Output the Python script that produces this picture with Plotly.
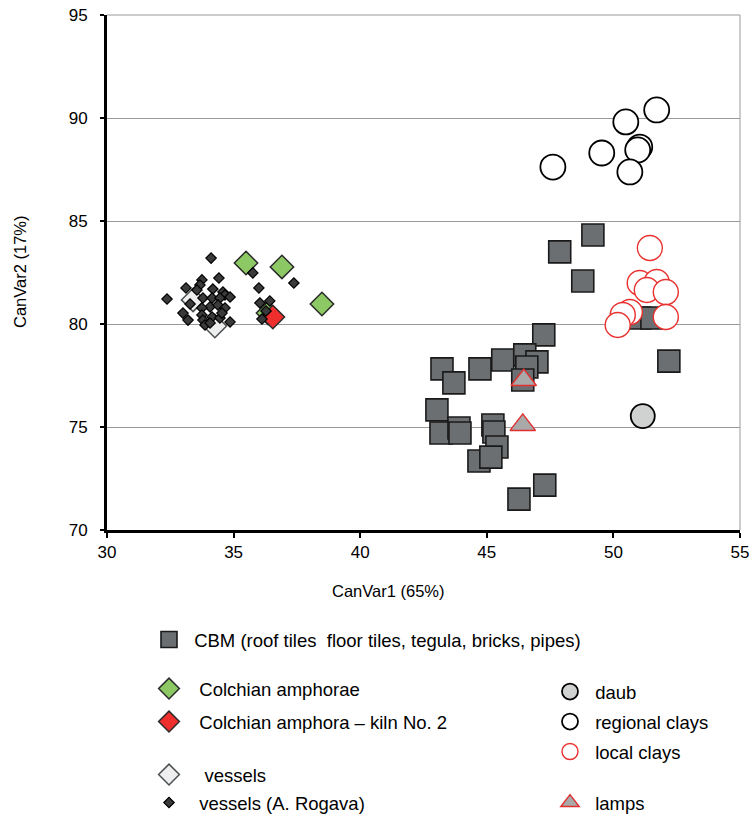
import plotly.graph_objects as go

# ---------------- data (CanVar1, CanVar2) ----------------
cbm_x = [47.25, 43.23, 43.70, 44.73, 45.63, 46.50, 46.98, 46.58, 46.42, 43.03, 43.19,
         43.90, 43.94, 45.24, 45.28, 45.40, 44.69, 45.16, 47.29, 46.27, 49.19, 47.88,
         48.79, 51.04, 51.52, 52.19]
cbm_y = [79.47, 77.82, 77.14, 77.82, 78.25, 78.50, 78.16, 77.91, 77.28, 75.83, 74.71,
         74.95, 74.71, 75.10, 74.76, 74.03, 73.35, 73.54, 72.18, 71.50, 84.32, 83.50,
         82.09, 80.29, 80.29, 78.20]

regional_x = [47.61, 49.54, 50.49, 51.71, 51.04, 50.96, 50.65]
regional_y = [87.62, 88.30, 89.81, 90.39, 88.59, 88.45, 87.38]

local_x = [51.44, 51.04, 51.71, 51.32, 52.07, 50.65, 50.37, 50.17, 52.07]
local_y = [83.69, 81.99, 82.04, 81.65, 81.55, 80.58, 80.44, 79.95, 80.34]

daub_x = [51.16]
daub_y = [75.53]

lamps_x = [46.46, 46.42]
lamps_y = [77.28, 75.10]

vessels_x = [33.40, 34.26]
vessels_y = [81.17, 79.90]

colchian_x = [35.49, 36.91, 38.49, 36.36]
colchian_y = [82.96, 82.77, 80.97, 80.53]

kiln_x = [36.55]
kiln_y = [80.34]

rogava_x = [34.11, 34.42, 33.12, 33.75, 33.67, 33.55, 32.37, 34.18, 34.58, 34.66, 34.86,
            33.79, 34.15, 34.46, 33.28, 34.07, 34.38, 34.66, 33.75, 33.00, 33.20, 33.75,
            33.79, 34.15, 34.46, 34.54, 34.86, 33.87, 34.07, 35.76, 37.38, 36.00, 36.04,
            36.43, 36.12, 36.28]
rogava_y = [83.20, 82.23, 81.75, 82.14, 81.89, 81.65, 81.21, 81.70, 81.55, 81.41, 81.31,
            81.26, 81.26, 81.26, 80.97, 80.83, 80.92, 80.78, 80.78, 80.53, 80.19, 80.44,
            80.19, 80.34, 80.29, 80.53, 80.10, 79.95, 80.05, 82.48, 81.99, 81.75, 81.02,
            81.12, 80.24, 80.63]

x_ticks = [30, 35, 40, 45, 50, 55]
y_ticks = [70, 75, 80, 85, 90, 95]

FONT = "Liberation Sans, Arial, sans-serif"
NB = "\u00a0"

fig = go.Figure()


def add(name, xs, ys, symbol, size, fill, line_color, line_width, legend):
    fig.add_trace(go.Scatter(
        x=xs, y=ys, mode="markers", name=name, legend=legend, showlegend=True,
        marker=dict(symbol=symbol, size=size, color=fill,
                    line=dict(color=line_color, width=line_width)),
    ))


add(NB + "CBM (roof tiles" + NB + " floor tiles, tegula, bricks, pipes)", cbm_x, cbm_y,
    "square", 22, "#6c6f72", "#1a1a1a", 1.6, "legend")
add(NB + "regional clays", regional_x, regional_y, "circle", 25, "white", "black", 1.8, "legend7")
add(NB + "local clays", local_x, local_y, "circle", 25, "white", "#e8302e", 1.4, "legend8")
add(NB + "daub", daub_x, daub_y, "circle", 24, "#d0d2d2", "black", 1.8, "legend6")
add(NB + "lamps", lamps_x, lamps_y, "triangle-up", 22, "#a9a9a9", "#e03030", 1.4, "legend9")
add(NB * 3 + "vessels", vessels_x, vessels_y, "diamond", 18, "#eeeeee", "#4a4f52", 1.5, "legend4")
add(NB * 2 + "Colchian amphorae", colchian_x, colchian_y, "diamond", 18, "#8cc864", "#2a2a2a", 1.5, "legend2")
add(NB * 2 + "Colchian amphora \u2013 kiln No. 2", kiln_x, kiln_y, "diamond", 18, "#ee2f2d", "#2a2a2a", 1.5, "legend3")
add(NB * 2 + "vessels (A. Rogava)", rogava_x, rogava_y, "diamond", 8, "#3a3a3a", "black", 1.2, "legend5")


def px_to_paper_y(py):
    return (530 - py) / 515.0


def px_to_paper_x(px):
    return (px - 107) / 633.0


def leg(px, py):
    return dict(x=px_to_paper_x(px), y=px_to_paper_y(py), xanchor="left", yanchor="middle",
                bgcolor="rgba(0,0,0,0)", borderwidth=0, itemwidth=30,
                font=dict(family=FONT, size=18.5, color="black"))


left_x = 149
right_x = 550
fig.update_layout(
    showlegend=True,
    legend=leg(left_x, 640),
    legend2=leg(left_x, 689),
    legend3=leg(left_x, 722),
    legend4=leg(left_x, 775),
    legend5=leg(left_x, 803),
    legend6=leg(right_x, 692),
    legend7=leg(right_x, 722),
    legend8=leg(right_x, 752),
    legend9=leg(right_x, 803),
)

fig.update_layout(
    width=752, height=819, autosize=False,
    margin=dict(l=107, r=12, t=15, b=289, autoexpand=False),
    paper_bgcolor="white", plot_bgcolor="white",
    font=dict(family=FONT, size=16, color="black"),
    xaxis=dict(range=[30, 55], tickvals=x_ticks, showgrid=False, zeroline=False,
               showline=True, linecolor="black", linewidth=3,
               ticks="outside", ticklen=5, tickwidth=2, tickcolor="black",
               tickfont=dict(family=FONT, size=17, color="black")),
    yaxis=dict(range=[70, 95], tickvals=y_ticks, showgrid=True, gridcolor="#9a9a9a",
               gridwidth=1, zeroline=False,
               showline=True, linecolor="black", linewidth=3,
               ticks="outside", ticklen=4, tickwidth=2, tickcolor="black",
               ticklabelstandoff=9,
               tickfont=dict(family=FONT, size=17, color="black")),
    shapes=[
        dict(type="line", xref="paper", yref="paper", x0=1, x1=1, y0=0, y1=1,
             line=dict(color="#9a9a9a", width=1), layer="below"),
        dict(type="line", xref="paper", yref="paper", x0=0, x1=1, y0=1, y1=1,
             line=dict(color="#9a9a9a", width=1), layer="below"),
    ],
    annotations=[
        dict(text="CanVar1 (65%)", xref="paper", yref="paper",
             x=px_to_paper_x(388), y=px_to_paper_y(591), xanchor="center", yanchor="middle",
             showarrow=False, font=dict(family=FONT, size=16.5, color="black")),
        dict(text="CanVar2 (17%)", xref="paper", yref="paper", textangle=-90,
             x=px_to_paper_x(20), y=px_to_paper_y(272), xanchor="center", yanchor="middle",
             showarrow=False, font=dict(family=FONT, size=16.5, color="black")),
    ],
)

fig.write_html(
    "out.html",
    config={"displayModeBar": False},
    post_script="document.body.style.margin='0px';"
                "document.documentElement.style.overflow='hidden';",
)
